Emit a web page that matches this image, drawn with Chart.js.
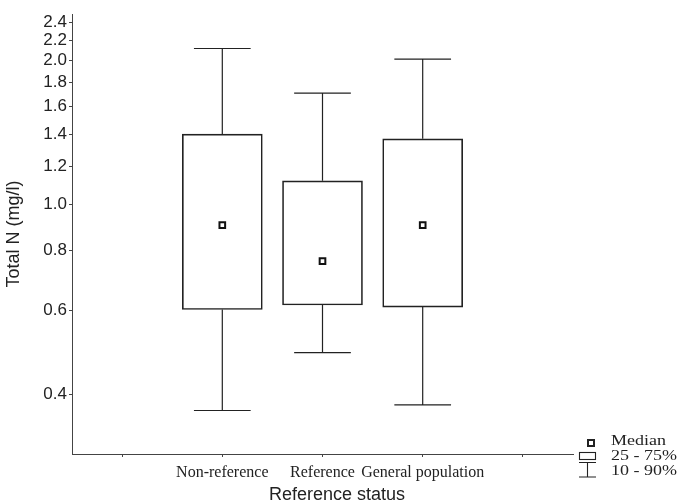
<!DOCTYPE html>
<html>
<head>
<meta charset="utf-8">
<script src="https://cdn.jsdelivr.net/npm/chart.js@4.4.0/dist/chart.umd.min.js"></script>
<style>
    html, body { margin: 0; padding: 0; background: #fff; }
    #wrap { width: 680px; height: 504px; }
</style>
</head>
<body>
<div id="wrap"><canvas id="boxChart" width="680" height="504"></canvas></div>
<script>
// Data
const categories = ['Non-reference', 'Reference', 'General population'];
const positions = [1.5, 2.5, 3.5];
const p10 = [0.370, 0.489, 0.380];
const q1 = [0.602, 0.615, 0.609];
const medians = [0.904, 0.760, 0.904];
const q3 = [1.401, 1.119, 1.370];
const p90 = [2.117, 1.708, 2.011];
const yTicks = [0.4, 0.6, 0.8, 1.0, 1.2, 1.4, 1.6, 1.8, 2.0, 2.2, 2.4];
const xTicks = [0.5, 1.5, 2.5, 3.5, 4.5];
const legendLabels = ['Median', '25 - 75%', '10 - 90%'];

const INK = '#222';
const CAP = 0.283; // half width of whisker caps, in x units
const SANS = '"Liberation Sans", Arial, sans-serif';
const SERIF = '"Liberation Serif", "Times New Roman", serif';

// whisker segments, gaps made with null y
function whiskerPoints() {
    const pts = [];
    positions.forEach((x, i) => {
        pts.push({ x: x, y: q3[i] }, { x: x, y: p90[i] }, { x: x, y: null });
        pts.push({ x: x - CAP, y: p90[i] }, { x: x + CAP, y: p90[i] }, { x: x, y: null });
        pts.push({ x: x, y: q1[i] }, { x: x, y: p10[i] }, { x: x, y: null });
        pts.push({ x: x - CAP, y: p10[i] }, { x: x + CAP, y: p10[i] }, { x: x, y: null });
    });
    return pts;
}

// Legend + x title
const extrasPlugin = {
    id: 'extras',
    afterDraw(chart) {
        const ctx = chart.ctx;
        ctx.save();
        ctx.strokeStyle = INK;
        ctx.lineWidth = 2;
        ctx.strokeRect(588, 440, 6, 6);
        ctx.lineWidth = 1.1;
        ctx.strokeRect(579.5, 452.5, 16, 7);
        ctx.beginPath();
        ctx.moveTo(579, 462.5); ctx.lineTo(596, 462.5);
        ctx.moveTo(587.5, 462.5); ctx.lineTo(587.5, 477);
        ctx.moveTo(579, 477); ctx.lineTo(596, 477);
        ctx.stroke();

        ctx.fillStyle = INK;
        ctx.textBaseline = 'middle';
        ctx.font = '15px ' + SERIF;
        // legend text in the reference is set wide
        ctx.save();
        ctx.translate(611, 0);
        ctx.scale(1.2, 1);
        ctx.fillText(legendLabels[0], 0, 441.5);
        ctx.fillText(legendLabels[1], 0, 456);
        ctx.fillText(legendLabels[2], 0, 471);
        ctx.restore();

        ctx.font = '18px ' + SANS;
        ctx.textAlign = 'center';
        ctx.fillText('Reference status', 337, 495);
        ctx.restore();
    }
};

const ctx = document.getElementById('boxChart').getContext('2d');
const chart = new Chart(ctx, {
    type: 'bar',
    data: {
        datasets: [
            {
                type: 'scatter',
                label: 'Median',
                data: positions.map((x, i) => ({ x: x, y: medians[i] })),
                pointStyle: 'rect',
                pointRadius: 4,
                pointBorderWidth: 2,
                pointBackgroundColor: '#fff',
                pointBorderColor: '#111',
                order: 0
            },
            {
                type: 'line',
                label: '10 - 90%',
                data: whiskerPoints(),
                borderColor: INK,
                borderWidth: 1.2,
                pointRadius: 0,
                spanGaps: false,
                tension: 0,
                order: 1
            },
            {
                type: 'bar',
                label: '25 - 75%',
                data: positions.map((x, i) => ({ x: x, y: [q1[i], q3[i]] })),
                barThickness: 80,
                backgroundColor: 'rgba(255,255,255,0)',
                borderColor: INK,
                borderWidth: 1,
                borderSkipped: false,
                order: 2
            }
        ]
    },
    options: {
        responsive: false,
        animation: false,
        devicePixelRatio: 1,
        layout: {
            padding: { top: 14, right: 107, left: 0, bottom: 0 }
        },
        plugins: {
            legend: { display: false },
            tooltip: { enabled: false }
        },
        scales: {
            x: {
                type: 'linear',
                min: 0,
                max: 5,
                offset: false,
                afterBuildTicks: (scale) => {
                    scale.ticks = xTicks.map(v => ({ value: v }));
                },
                afterFit: (scale) => { scale.height = 50; },
                grid: {
                    drawOnChartArea: false,
                    tickLength: 3,
                    color: '#444',
                    offset: false
                },
                border: { color: '#444', width: 1 },
                ticks: {
                    autoSkip: false,
                    maxRotation: 0,
                    minRotation: 0,
                    padding: 6,
                    color: INK,
                    font: { family: SERIF, size: 16 },
                    callback: (value) => {
                        const i = positions.indexOf(value);
                        return i >= 0 ? categories[i] : '';
                    }
                }
            },
            y: {
                type: 'logarithmic',
                min: 0.3,
                max: 2.5,
                afterBuildTicks: (scale) => {
                    scale.ticks = yTicks.map(v => ({ value: v }));
                },
                afterFit: (scale) => { scale.width = 72; },
                grid: {
                    drawOnChartArea: false,
                    tickLength: 3,
                    color: '#444'
                },
                border: { color: '#444', width: 1 },
                ticks: {
                    padding: 2,
                    color: INK,
                    font: { family: SANS, size: 17 },
                    callback: (value) => Number(value).toFixed(1)
                },
                title: {
                    display: true,
                    text: 'Total N (mg/l)',
                    color: INK,
                    font: { family: SANS, size: 18, lineHeight: 1 },
                    padding: { top: 5, bottom: 0 }
                }
            }
        }
    },
    plugins: [extrasPlugin]
});
</script>
</body>
</html>
